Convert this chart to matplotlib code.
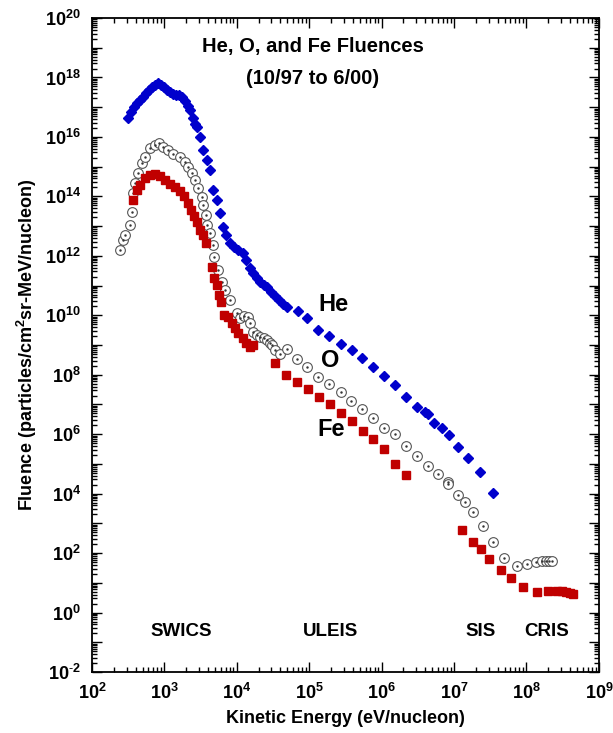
import numpy as np
import matplotlib.pyplot as plt
from matplotlib.ticker import LogLocator, FuncFormatter, NullFormatter

plt.rcParams['font.family'] = ['Liberation Sans', 'DejaVu Sans']
plt.rcParams['mathtext.fontset'] = 'custom'
plt.rcParams['mathtext.rm'] = 'Liberation Sans'
plt.rcParams['mathtext.bf'] = 'Liberation Sans:bold'
plt.rcParams['axes.unicode_minus'] = False

# log10 of energy (eV/nucleon) and fluence
he_logE = [2.497, 2.538, 2.580, 2.621, 2.663, 2.704, 2.746, 2.787, 2.828, 2.870,
           2.911, 2.953, 2.994, 3.035, 3.077, 3.118, 3.160, 3.201, 3.243, 3.284,
           3.325, 3.353, 3.394, 3.422, 3.450, 3.491, 3.532, 3.588, 3.629, 3.671,
           3.726, 3.767, 3.809, 3.850, 3.905, 3.960, 4.016, 4.085, 4.126, 4.181,
           4.223, 4.278, 4.319, 4.375, 4.416, 4.471, 4.527, 4.582, 4.637, 4.692,
           4.844, 4.968, 5.120, 5.272, 5.438, 5.590, 5.728, 5.880, 6.031, 6.183,
           6.335, 6.487, 6.597, 6.639, 6.722, 6.832, 6.929, 7.053, 7.191, 7.357,
           7.536]
he_logF = [16.63, 16.84, 17.00, 17.14, 17.24, 17.34, 17.48, 17.58, 17.68, 17.74,
           17.81, 17.74, 17.68, 17.58, 17.51, 17.44, 17.41, 17.41, 17.34, 17.21,
           17.04, 16.90, 16.63, 16.43, 16.33, 16.00, 15.56, 15.22, 14.89, 14.21,
           13.88, 13.44, 12.97, 12.70, 12.43, 12.30, 12.19, 12.09, 11.86, 11.59,
           11.42, 11.25, 11.12, 11.02, 10.95, 10.78, 10.65, 10.51, 10.38, 10.28,
           10.14, 9.91, 9.50, 9.30, 9.03, 8.83, 8.56, 8.26, 7.96, 7.65,
           7.25, 6.91, 6.75, 6.68, 6.38, 6.21, 5.97, 5.57, 5.20, 4.73,
           4.02]

o_logE = [2.387, 2.428, 2.456, 2.525, 2.552, 2.566, 2.594, 2.635, 2.690, 2.732,
          2.801, 2.870, 2.925, 2.980, 3.049, 3.118, 3.215, 3.284, 3.325, 3.381,
          3.422, 3.463, 3.519, 3.532, 3.574, 3.588, 3.629, 3.671, 3.684, 3.740,
          3.795, 3.836, 3.905, 4.002, 4.043, 4.099, 4.154, 4.181, 4.223, 4.278,
          4.319, 4.375, 4.416, 4.458, 4.485, 4.527, 4.596, 4.692, 4.830, 4.968,
          5.120, 5.272, 5.438, 5.576, 5.728, 5.880, 6.031, 6.183, 6.335, 6.487,
          6.639, 6.777, 6.915, 6.915, 7.053, 7.150, 7.260, 7.398, 7.536, 7.688,
          7.868, 8.006, 8.130, 8.213, 8.268, 8.309, 8.351]
o_logF = [12.19, 12.53, 12.70, 13.04, 13.47, 14.11, 14.45, 14.78, 15.12, 15.32,
          15.63, 15.73, 15.79, 15.66, 15.56, 15.42, 15.32, 15.15, 14.99, 14.78,
          14.55, 14.28, 13.98, 13.71, 13.37, 13.04, 12.77, 12.36, 11.96, 11.52,
          11.12, 10.85, 10.51, 10.08, 9.91, 9.97, 9.94, 9.74, 9.44, 9.34,
          9.27, 9.23, 9.17, 9.07, 9.00, 8.83, 8.70, 8.86, 8.53, 8.26,
          7.92, 7.69, 7.42, 7.12, 6.85, 6.54, 6.21, 6.01, 5.60, 5.27,
          4.93, 4.66, 4.39, 4.32, 3.95, 3.72, 3.38, 2.91, 2.37, 1.83,
          1.57, 1.63, 1.70, 1.73, 1.73, 1.73, 1.73]

fe_logE = [2.566, 2.621, 2.663, 2.732, 2.801, 2.870, 2.939, 3.008, 3.077, 3.146,
           3.215, 3.270, 3.325, 3.367, 3.408, 3.450, 3.491, 3.532, 3.574, 3.657,
           3.684, 3.726, 3.753, 3.781, 3.822, 3.878, 3.933, 3.974, 4.016, 4.085,
           4.126, 4.181, 4.223, 4.527, 4.678, 4.830, 4.982, 5.134, 5.286, 5.438,
           5.590, 5.742, 5.880, 6.031, 6.183, 6.335, 7.108, 7.260, 7.371, 7.481,
           7.647, 7.785, 7.951, 8.144, 8.296, 8.420, 8.489, 8.544, 8.600, 8.641]
fe_logF = [13.88, 14.21, 14.38, 14.62, 14.72, 14.75, 14.68, 14.55, 14.41, 14.31,
           14.18, 14.01, 13.78, 13.54, 13.34, 13.14, 12.87, 12.70, 12.43, 11.62,
           11.25, 11.02, 10.68, 10.45, 10.01, 9.94, 9.74, 9.57, 9.40, 9.23,
           9.07, 8.93, 9.00, 8.39, 7.99, 7.75, 7.52, 7.25, 7.01, 6.71,
           6.44, 6.11, 5.84, 5.50, 5.00, 4.63, 2.78, 2.37, 2.14, 1.80,
           1.43, 1.16, 0.86, 0.69, 0.72, 0.72, 0.72, 0.69, 0.66, 0.62]

instruments = ['SWICS', 'ULEIS', 'SIS', 'CRIS']
instrument_logE = [3.23, 5.29, 7.36, 8.28]

he_E, he_F = 10.0 ** np.array(he_logE), 10.0 ** np.array(he_logF)
o_E, o_F = 10.0 ** np.array(o_logE), 10.0 ** np.array(o_logF)
fe_E, fe_F = 10.0 ** np.array(fe_logE), 10.0 ** np.array(fe_logF)

fig = plt.figure(figsize=(6.13, 7.33), dpi=100)
ax = fig.add_axes([0.150, 0.0832, 0.827, 0.8922])

ax.plot(he_E, he_F, 'D', color='#0000CC', ms=5.5, mec='#0000CC', ls='none')
ax.plot(o_E, o_F, 'o', mfc='white', mec='#555555', mew=0.8, ms=7, ls='none')
ax.plot(o_E, o_F, '.', color='#333333', ms=1.5, ls='none')
ax.plot(fe_E, fe_F, 's', color='#C00000', ms=5.5, ls='none')

ax.set_xscale('log')
ax.set_yscale('log')
ax.set_xlim(1e2, 1e9)
ax.set_ylim(1e-2, 1e20)

ax.xaxis.set_major_locator(LogLocator(base=10, numticks=20))
ax.xaxis.set_minor_locator(LogLocator(base=10, subs=np.arange(2, 10), numticks=20))
ax.yaxis.set_major_locator(LogLocator(base=10, numticks=40))
ax.yaxis.set_minor_locator(LogLocator(base=10, subs=np.arange(2, 10), numticks=40))


def pow_label(e):
    # plain hyphen for negative exponents, like the original
    if e < 0:
        return r'$\mathbf{10^{\text{-}%d}}$' % (-e)
    return r'$\mathbf{10^{%d}}$' % e


def fmt(v, pos):
    return pow_label(int(round(np.log10(v))))


def yfmt(v, pos):
    e = int(round(np.log10(v)))
    if e % 2:
        return ''
    return pow_label(e)


ax.xaxis.set_major_formatter(FuncFormatter(fmt))
ax.yaxis.set_major_formatter(FuncFormatter(yfmt))
ax.xaxis.set_minor_formatter(NullFormatter())
ax.yaxis.set_minor_formatter(NullFormatter())

ax.tick_params(which='both', direction='in', top=True, right=True, width=1)
ax.tick_params(which='major', length=7, labelsize=13, pad=8)
ax.tick_params(which='minor', length=3.5)
for s in ax.spines.values():
    s.set_linewidth(1.3)

ax.set_xlabel('Kinetic Energy (eV/nucleon)', fontsize=13, fontweight='bold', labelpad=5)
ax.set_ylabel(r'Fluence (particles/cm$^{\mathbf{2}}$sr-MeV/nucleon)', fontsize=13,
              fontweight='bold', labelpad=4)

ax.text(0.435, 0.956, 'He, O, and Fe Fluences', transform=ax.transAxes,
        ha='center', va='center', fontsize=14.5, fontweight='bold')
ax.text(0.435, 0.907, '(10/97 to 6/00)', transform=ax.transAxes,
        ha='center', va='center', fontsize=14.5, fontweight='bold')

ax.text(10 ** 5.33, 10 ** 10.38, 'He', ha='center', va='center', fontsize=17, fontweight='bold')
ax.text(10 ** 5.29, 10 ** 8.49, 'O', ha='center', va='center', fontsize=17, fontweight='bold')
ax.text(10 ** 5.30, 10 ** 6.17, 'Fe', ha='center', va='center', fontsize=17, fontweight='bold')

for name, le in zip(instruments, instrument_logE):
    ax.text(10 ** le, 10 ** -0.65, name, ha='center', va='center', fontsize=13.5,
            fontweight='bold')

fig.savefig('out.png', dpi=100)
